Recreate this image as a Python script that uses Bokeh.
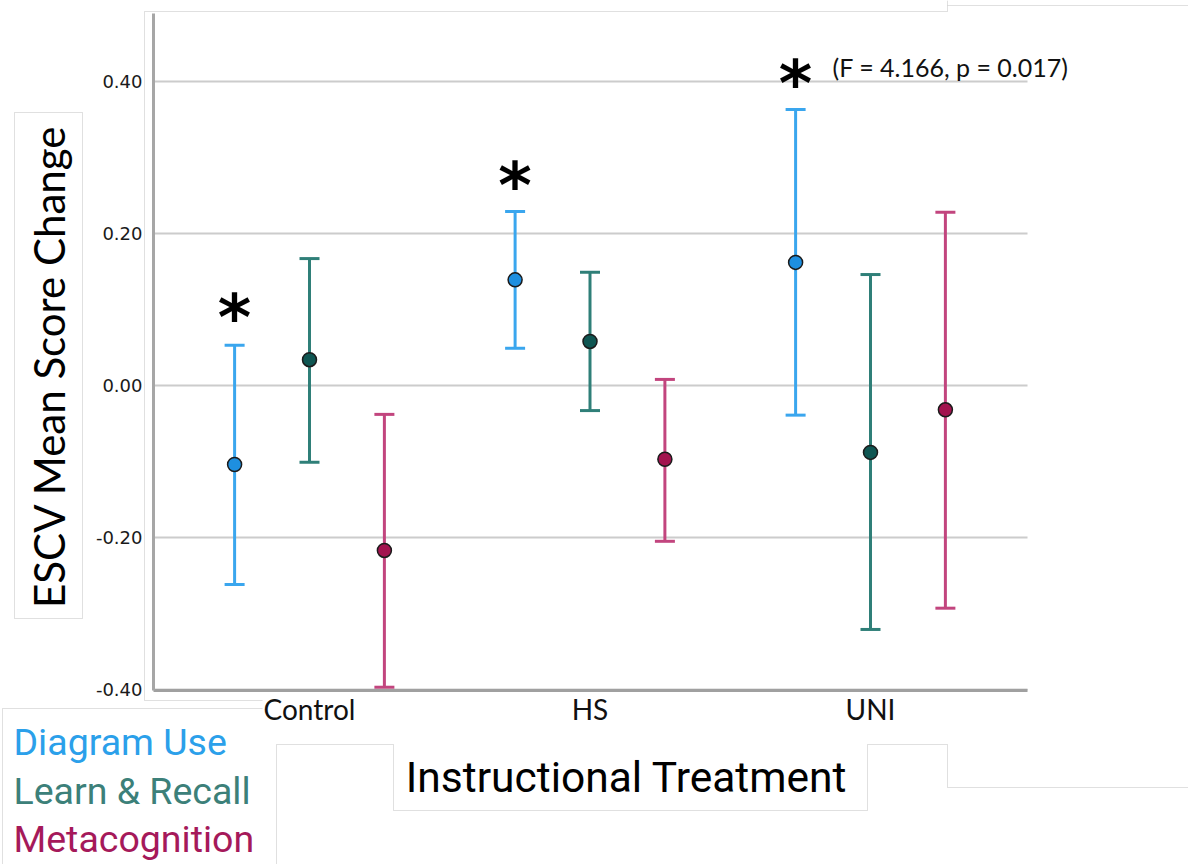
import numpy as np
from bokeh.plotting import figure
from bokeh.models import (ColumnDataSource, Range1d, FixedTicker, LinearAxis,
                          NumeralTickFormatter, Label, BoxAnnotation)
from bokeh.transform import dodge
from bokeh.core.properties import value
from bokeh.embed import file_html
from bokeh.resources import INLINE

# ---------------- data ----------------
groups = ["Control", "HS", "UNI"]
series = ["Diagram Use", "Learn & Recall", "Metacognition"]

diagram_mean = [-0.104, 0.139, 0.162]
diagram_upper = [0.053, 0.229, 0.363]
diagram_lower = [-0.262, 0.049, -0.039]

learn_mean = [0.034, 0.058, -0.088]
learn_upper = [0.167, 0.149, 0.146]
learn_lower = [-0.101, -0.033, -0.321]

meta_mean = [-0.217, -0.097, -0.032]
meta_upper = [-0.038, 0.008, 0.228]
meta_lower = [-0.397, -0.205, -0.293]

y_ticks = [-0.40, -0.20, 0.00, 0.20, 0.40]

sig_groups = ["Control", "HS", "UNI"]
sig_y = [0.112, 0.286, 0.420]
stat_text = "(F = 4.166, p = 0.017)"

y_title = "ESCV Mean Score Change"
x_title = "Instructional Treatment"

# ---------------- layout / styles ----------------
W, H = 1188, 864
GROUP_PX = 280.5          # pixels between group centres
FIRST_GROUP_PX = 309      # pixel x of first group centre
Y_UNIT_PX = 760.0         # pixels per 1.0 of y
Y_REF_VAL, Y_REF_PX = 0.40, 81

X0 = -FIRST_GROUP_PX / GROUP_PX
X1 = X0 + W / GROUP_PX
Y1 = Y_REF_VAL + Y_REF_PX / Y_UNIT_PX
Y0 = Y1 - H / Y_UNIT_PX


def xpx(px):
    return X0 + px / GROUP_PX


def ypx(py):
    return Y1 - py / Y_UNIT_PX


PLOT_L, PLOT_R, PLOT_T, PLOT_B = 153, 1027, 13, 690

line_colors = ["#3aa6ee", "#2f7f78", "#c2457e"]
fill_colors = ["#1e8fe0", "#0f5652", "#a3134f"]
legend_colors = ["#2ba0ea", "#3c8079", "#a5195a"]
offsets = [-0.267, 0.0, 0.267]

p = figure(width=W, height=H,
           x_range=Range1d(X0, X1), y_range=Range1d(Y0, Y1),
           x_axis_type=None, y_axis_type=None,
           output_backend="svg", toolbar_location=None, min_border=0)
p.outline_line_color = None
p.background_fill_color = "white"
p.border_fill_color = "white"

# horizontal grid lines
grid_src = ColumnDataSource(dict(y=y_ticks))
p.segment(x0=xpx(PLOT_L), x1=xpx(PLOT_R), y0="y", y1="y", source=grid_src,
          line_color="#cccccc", line_width=2)

# y axis
yaxis = LinearAxis(fixed_location=xpx(PLOT_L), bounds=(ypx(PLOT_B), ypx(PLOT_T)),
                   ticker=FixedTicker(ticks=y_ticks),
                   formatter=NumeralTickFormatter(format="0.00"))
yaxis.axis_line_color = "#a6a6a6"
yaxis.axis_line_width = 3
yaxis.major_tick_line_color = None
yaxis.minor_tick_line_color = None
yaxis.major_label_standoff = 5
yaxis.major_label_text_font = "DejaVu Sans"
yaxis.major_label_text_font_size = "18px"
yaxis.major_label_text_color = "#1a1a1a"
p.add_layout(yaxis, "left")

# x axis
group_x = list(range(len(groups)))
xaxis = LinearAxis(fixed_location=ypx(PLOT_B), bounds=(xpx(PLOT_L), xpx(PLOT_R)),
                   ticker=FixedTicker(ticks=group_x),
                   major_label_overrides={i: g for i, g in zip(group_x, groups)})
xaxis.axis_line_color = "#a0a0a0"
xaxis.axis_line_width = 3
xaxis.major_tick_line_color = None
xaxis.minor_tick_line_color = None
xaxis.major_label_standoff = -5
xaxis.major_label_text_font = "Lato"
xaxis.major_label_text_font_size = "28px"
xaxis.major_label_text_color = "#111111"
p.add_layout(xaxis, "below")

# error bars and means
all_series = [
    (diagram_mean, diagram_upper, diagram_lower),
    (learn_mean, learn_upper, learn_lower),
    (meta_mean, meta_upper, meta_lower),
]
for (mean, upper, lower), off, lc, fc in zip(all_series, offsets, line_colors, fill_colors):
    src = ColumnDataSource(dict(gx=group_x, mean=mean, upper=upper, lower=lower))
    xs = dodge("gx", off)
    p.segment(x0=xs, y0="lower", x1=xs, y1="upper", line_color=lc, line_width=3, source=src)
    p.scatter(x=xs, y="upper", marker="dash", size=20, line_color=lc, line_width=3, source=src)
    p.scatter(x=xs, y="lower", marker="dash", size=20, line_color=lc, line_width=3, source=src)
    p.scatter(x=xs, y="mean", marker="circle", size=14, fill_color=fc,
              line_color="#1b1b1b", line_width=1.5, source=src)

# significance asterisks
sig_src = ColumnDataSource(dict(gx=[groups.index(g) for g in sig_groups], y=sig_y,
                                t=["*"] * len(sig_groups)))
p.text(x=dodge("gx", offsets[0]), y="y", text="t", source=sig_src,
       text_font=value("DejaVu Sans"), text_font_style="bold", text_font_size="64px",
       text_align="center", text_baseline="middle", text_color="black", y_offset=18)

# stats text
p.add_layout(Label(x=832, y=66, x_units="canvas", y_units="canvas",
                   text=stat_text, text_font="Lato", text_font_size="25px",
                   text_align="left", text_baseline="middle", text_color="#111111"))

# y title
p.add_layout(Label(x=48, y=366, x_units="canvas", y_units="canvas",
                   text=y_title, angle=np.pi / 2, text_font="Lato", text_font_size="42px",
                   text_align="center", text_baseline="middle", text_color="black"))
# x title
p.add_layout(Label(x=626, y=777, x_units="canvas", y_units="canvas",
                   text=x_title, text_font="Roboto", text_font_size="42.5px",
                   text_align="center", text_baseline="middle", text_color="black"))

# legend texts
for name, col, ry in zip(series, legend_colors, [741, 790, 838]):
    p.add_layout(Label(x=13, y=ry, x_units="canvas", y_units="canvas",
                       text=name, text_font="Roboto", text_font_size="37.5px",
                       text_align="left", text_baseline="middle", text_color=col))

# decorative frames (text box outlines)
segs = [
    (144, 11, 947, 11), (144, 11, 144, 700), (144, 700, 262, 700),
    (947, 0, 947, 11), (947, 5, 1188, 5),
    (2, 708, 262, 708), (2, 708, 2, 864), (276, 744, 276, 864),
    (276, 744, 393, 744), (393, 744, 393, 810), (393, 810, 867, 810),
    (867, 810, 867, 744), (867, 744, 947, 744), (947, 744, 947, 787),
    (947, 787, 1188, 787),
    (14, 112, 82, 112), (14, 618, 82, 618), (14, 112, 14, 618), (82, 112, 82, 618),
]
for x0, y0, x1, y1 in segs:
    p.add_layout(BoxAnnotation(left=min(x0, x1), right=max(x0, x1),
                               top=min(y0, y1), bottom=max(y0, y1),
                               left_units="canvas", right_units="canvas",
                               top_units="canvas", bottom_units="canvas",
                               fill_alpha=0, line_color="#c4c4c4", line_width=1))

open("out.html", "w").write(file_html(p, INLINE))
